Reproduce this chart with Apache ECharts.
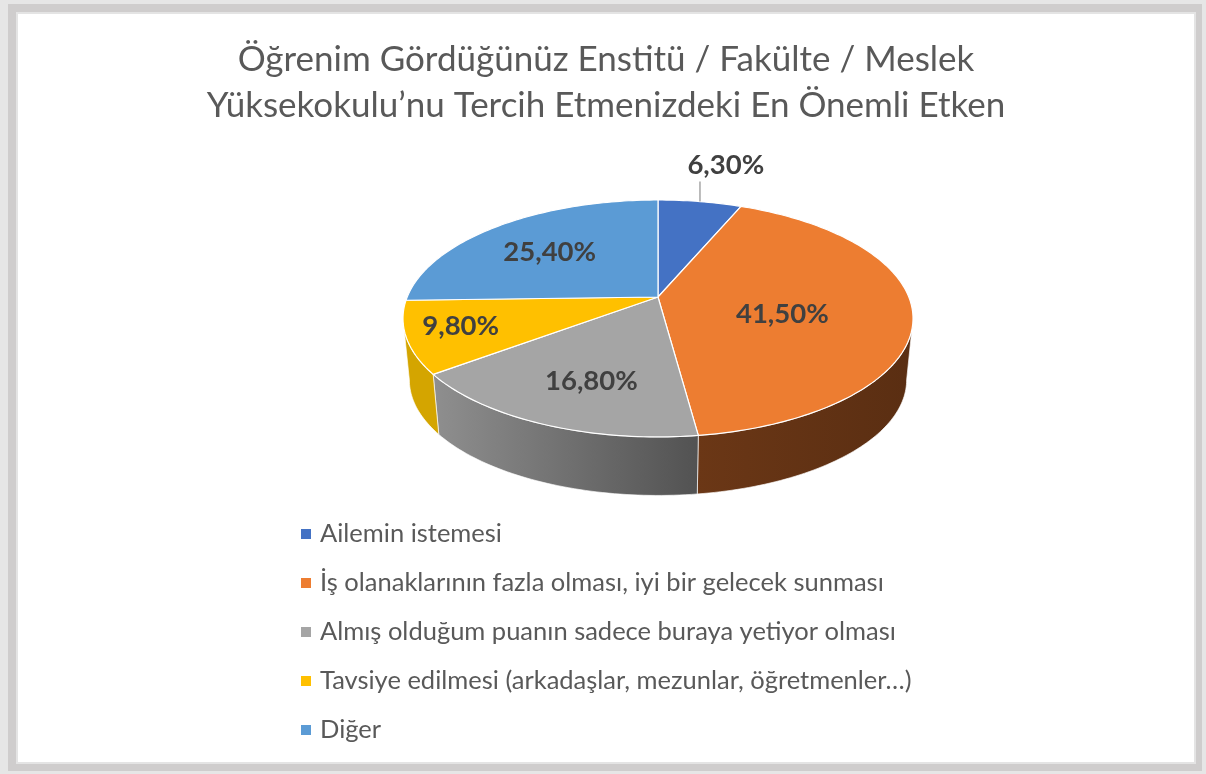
<!DOCTYPE html>
<html>
<head>
<meta charset="utf-8">
<style>
  html, body { margin: 0; height: 100%; overflow: hidden; background: #e6e6e6; }
  .band { position: absolute; left: 8px; top: 4px; right: 4px; bottom: 3px; background: #cfcdcd; }
  .paper { position: absolute; left: 8px; top: 8px; right: 6px; bottom: 7px; background: #fff; border: 2px solid #e4e4e4; }
  #chart { position: absolute; left: 0; top: 0; width: 1206px; height: 774px; }
</style>
</head>
<body>
<div class="band"><div class="paper"></div></div>
<div id="chart"></div>
<script src="https://cdn.jsdelivr.net/npm/echarts@6/dist/echarts.min.js"></script>
<script>
const titleText = 'Öğrenim Gördüğünüz Enstitü / Fakülte / Meslek\nYüksekokulu’nu Tercih Etmenizdeki En Önemli Etken';
const categories = [
  'Ailemin istemesi',
  'İş olanaklarının fazla olması, iyi bir gelecek sunması',
  'Almış olduğum puanın sadece buraya yetiyor olması',
  'Tavsiye edilmesi (arkadaşlar, mezunlar, öğretmenler…)',
  'Diğer'
];
const values = [6.3, 41.5, 16.8, 9.8, 25.4];
const valueLabels = ['6,30%', '41,50%', '16,80%', '9,80%', '25,40%'];
const colors = ['#4472c4', '#ed7d31', '#a5a5a5', '#ffc000', '#5b9bd5'];
const wallFrom = ['#2a4a80', '#6b3716', '#8f8f8f', '#d4a500', '#3c6a94'];
const wallTo = ['#2a4a80', '#5a2e12', '#525252', '#d4a500', '#3c6a94'];

// label nudges from the 60% radius point of each slice
const labelNudge = [[41, -71], [-27, 8], [-2, 14], [-50, 6], [-8, 0]];
const hasLeader = [true, false, false, false, false];

// perspective disc: apex of the pie, semi axes, tilt
const disc = { cx: 658, cy: 297, a: 250.8, b: 114.6, k: 0.181 };
const base = { dy: 62, scale: 0.975 };

const total = values.reduce((s, v) => s + v, 0);
const starts = [];
values.reduce((s, v, i) => { starts[i] = s; return s + v; }, 0);
const toAngle = v => (v / total) * Math.PI * 2;

function project(theta, r, isBase) {
  const u = Math.sin(theta) * r;
  const v = -Math.cos(theta) * r;
  const w = 1 - disc.k * v;
  const s = isBase ? base.scale : 1;
  return [
    disc.cx + (disc.a * s * u) / w,
    disc.cy + (isBase ? base.dy : 0) + (disc.b * s * v) / w
  ];
}

function rim(from, to, isBase) {
  const pts = [];
  const steps = Math.max(2, Math.ceil((to - from) / 0.02));
  for (let i = 0; i <= steps; i++) {
    pts.push(project(from + ((to - from) * i) / steps, 1, isBase));
  }
  return pts;
}

// only this part of the side is facing the viewer
const wallMin = Math.acos(-disc.k);
const wallMax = Math.PI * 2 - wallMin;

function renderWall(i) {
  const from = Math.max(toAngle(starts[i]), wallMin);
  const to = Math.min(toAngle(starts[i] + values[i]), wallMax);
  if (to <= from) return { type: 'group', children: [] };
  const points = rim(from, to, false).concat(rim(from, to, true).reverse());
  return {
    type: 'polygon',
    shape: { points },
    style: {
      fill: new echarts.graphic.LinearGradient(0, 0, 1, 0, [
        { offset: 0, color: wallFrom[i] },
        { offset: 1, color: wallTo[i] }
      ]),
      stroke: 'rgba(255,255,255,0.65)',
      lineWidth: 1
    }
  };
}

function renderFace(i) {
  const from = toAngle(starts[i]);
  const to = toAngle(starts[i] + values[i]);
  const mid = (from + to) / 2;
  const anchor = project(mid, 0.6, false);
  const children = [
    {
      type: 'polygon',
      shape: { points: [[disc.cx, disc.cy]].concat(rim(from, to, false)) },
      style: { fill: colors[i], stroke: '#fff', lineWidth: 1.2, lineJoin: 'round' }
    }
  ];
  if (hasLeader[i]) {
    const edge = project(mid, 1, false);
    children.push({
      type: 'line',
      shape: { x1: edge[0], y1: edge[1], x2: edge[0], y2: edge[1] - 20 },
      style: { stroke: '#a6a6a6', lineWidth: 1.5 }
    });
  }
  children.push({
    type: 'text',
    z2: 10,
    style: {
      x: anchor[0] + labelNudge[i][0],
      y: anchor[1] + labelNudge[i][1],
      text: valueLabels[i],
      fill: '#404040',
      font: 'bold 27.5px Lato',
      align: 'center',
      verticalAlign: 'middle'
    }
  });
  return { type: 'group', children };
}

const wallSeries = values.map((v, i) => ({
  type: 'custom',
  name: 'wall' + i,
  coordinateSystem: 'none',
  silent: true,
  z: 1,
  data: [v],
  renderItem: () => renderWall(i)
}));
const faceSeries = categories.map((name, i) => ({
  type: 'custom',
  name,
  coordinateSystem: 'none',
  silent: true,
  z: 2,
  itemStyle: { color: colors[i] },
  data: [values[i]],
  renderItem: () => renderFace(i)
}));

const chart = echarts.init(document.getElementById('chart'));
chart.setOption({
  animation: false,
  backgroundColor: 'transparent',
  title: {
    text: titleText,
    left: 601,
    top: 32,
    textAlign: 'center',
    textStyle: { fontFamily: 'Lato', fontSize: 35, fontWeight: 'normal', color: '#595959', lineHeight: 46 }
  },
  legend: {
    data: categories,
    orient: 'vertical',
    left: 301,
    top: 521,
    padding: 0,
    itemWidth: 10,
    itemHeight: 10,
    itemGap: 23,
    icon: 'rect',
    selectedMode: false,
    textStyle: { fontFamily: 'Lato', fontSize: 25.5, color: '#595959', padding: [0, 0, 0, 4] }
  },
  series: wallSeries.concat(faceSeries)
});
</script>
</body>
</html>
